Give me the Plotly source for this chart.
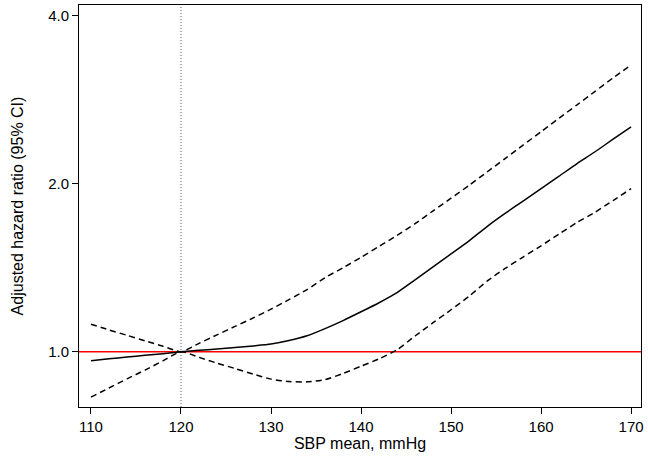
import plotly.graph_objects as go

sbp = [110, 112, 114, 116, 118, 120, 122, 124, 126, 128, 130, 132, 134, 136, 138, 140,
       142, 144, 146, 148, 150, 152, 154, 156, 158, 160, 162, 164, 166, 168, 170]

hr = [0.963, 0.971, 0.978, 0.985, 0.992, 1.000, 1.006, 1.011, 1.017, 1.024, 1.032,
      1.047, 1.068, 1.100, 1.137, 1.179, 1.224, 1.276, 1.345, 1.419, 1.497, 1.580,
      1.676, 1.769, 1.862, 1.959, 2.063, 2.173, 2.282, 2.403, 2.529]

upper = [1.120, 1.094, 1.070, 1.046, 1.023, 1.000, 1.035, 1.072, 1.110, 1.149, 1.192,
         1.240, 1.292, 1.357, 1.414, 1.476, 1.544, 1.616, 1.696, 1.788, 1.884, 1.986,
         2.099, 2.219, 2.346, 2.479, 2.621, 2.770, 2.928, 3.095, 3.265]

lower = [0.829, 0.861, 0.894, 0.927, 0.963, 1.000, 0.977, 0.954, 0.933, 0.912, 0.893,
         0.884, 0.883, 0.891, 0.914, 0.942, 0.971, 1.008, 1.067, 1.127, 1.189, 1.257,
         1.338, 1.410, 1.478, 1.548, 1.625, 1.705, 1.778, 1.866, 1.960]

x_ticks = [110, 120, 130, 140, 150, 160, 170]
y_ticks = [1, 2, 4]
y_tick_labels = ["1.0", "2.0", "4.0"]
ref_sbp = 120
ref_hr = 1.0

font = "Liberation Sans, Arial, sans-serif"

fig = go.Figure()

fig.add_shape(type="line", xref="x", yref="paper", x0=ref_sbp, x1=ref_sbp, y0=0, y1=1,
              line=dict(color="#555555", width=1, dash="1px,2px"), layer="below")
fig.add_shape(type="line", xref="paper", yref="y", x0=0, x1=1, y0=ref_hr, y1=ref_hr,
              line=dict(color="#ff0000", width=1.5), layer="below")

fig.add_trace(go.Scatter(x=sbp, y=upper, mode="lines",
                         line=dict(color="black", width=1.5, dash="6px,4px",
                                   shape="spline", smoothing=0.6)))
fig.add_trace(go.Scatter(x=sbp, y=lower, mode="lines",
                         line=dict(color="black", width=1.5, dash="6px,4px",
                                   shape="spline", smoothing=0.6)))
fig.add_trace(go.Scatter(x=sbp, y=hr, mode="lines",
                         line=dict(color="black", width=1.5,
                                   shape="spline", smoothing=0.6)))

fig.update_layout(
    width=648, height=456,
    margin=dict(l=79, r=7, t=5, b=49, autoexpand=False),
    paper_bgcolor="white", plot_bgcolor="white",
    showlegend=False,
    font=dict(family=font, size=15, color="black"),
)
fig.update_xaxes(
    range=[108.67, 171.1], tickvals=x_ticks, automargin=False,
    showline=True, linecolor="black", linewidth=1, mirror=True,
    ticks="outside", ticklen=6, tickcolor="black", showgrid=False, zeroline=False,
    tickfont=dict(size=15),
    title=dict(text="SBP mean, mmHg", font=dict(size=16), standoff=0),
)
fig.update_yaxes(
    type="log", range=[-0.0991, 0.6213], tickvals=y_ticks, ticktext=y_tick_labels,
    automargin=False,
    showline=True, linecolor="black", linewidth=1, mirror=True,
    ticks="outside", ticklen=6, tickcolor="black", showgrid=False, zeroline=False,
    tickfont=dict(size=15),
    title=dict(text="Adjusted hazard ratio (95% CI)", font=dict(size=16), standoff=20),
)

fig.write_html("out.html", config={"displayModeBar": False},
               post_script="document.body.style.margin='0';")
